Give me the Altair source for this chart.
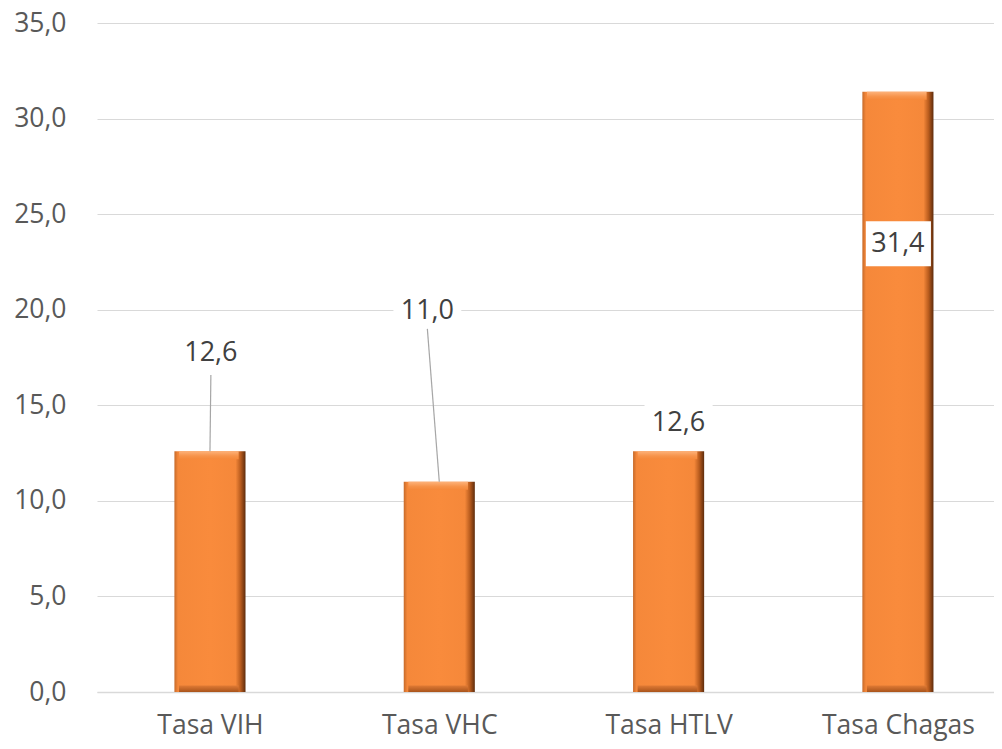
import altair as alt
import pandas as pd

# ---- data ----
categories = ["Tasa VIH", "Tasa VHC", "Tasa HTLV", "Tasa Chagas"]
values = [12.6, 11.0, 12.6, 31.4]
value_labels = ["12,6", "11,0", "12,6", "31,4"]
y_ticks = [0, 5, 10, 15, 20, 25, 30, 35]

# ---- label layout (positions, in index / data units) ----
lab_dx = [0.004, -0.052, 0.043, 0.0]
lab_y = [17.72, 19.95, 14.05, 23.45]
has_box = [False, True, True, True]
box_dx0 = [0, -0.2, -0.105, -0.14]
box_dx1 = [0, 0.096, 0.192, 0.144]
box_h = [0, 1.05, 1.18, 1.18]
lead_top_dx = [0.004, -0.052, None, None]
lead_top_y = [16.58, 19.0, None, None]

idx = list(range(len(categories)))
HALF = 0.155
BEVEL = 0.42

df = pd.DataFrame({"idx": idx, "cat": categories, "val": values, "lab": value_labels})
df["x0"] = df["idx"] - HALF
df["x1"] = df["idx"] + HALF

lab_df = pd.DataFrame({
    "idx": idx, "lab": value_labels,
    "lx": [i + d for i, d in zip(idx, lab_dx)], "ly": lab_y,
})
box_df = pd.DataFrame({
    "bx0": [i + a for i, a, b in zip(idx, box_dx0, has_box) if b],
    "bx1": [i + a for i, a, b in zip(idx, box_dx1, has_box) if b],
    "by0": [y - h for y, h, b in zip(lab_y, box_h, has_box) if b],
    "by1": [y + h for y, h, b in zip(lab_y, box_h, has_box) if b],
})
lead_rows = []
for i, v, dx, ty in zip(idx, values, lead_top_dx, lead_top_y):
    if ty is not None:
        lead_rows.append({"x": i + dx, "y": ty, "x2": i, "y2": v})
lead_df = pd.DataFrame(lead_rows)

names_js = "[" + ",".join("'" + c + "'" for c in categories) + "]"

FONT = "Open Sans"

xscale = alt.Scale(domain=[-0.4926, 3.419], nice=False, zero=False, padding=0)
yscale = alt.Scale(domain=[0, 35], nice=False, padding=0)

x_axis = alt.Axis(values=idx, labelExpr=names_js + "[datum.value]", title=None)
y_axis = alt.Axis(
    values=y_ticks,
    labelExpr="replace(format(datum.value, '.1f'), '.', ',')",
    title=None,
)

base = alt.Chart(df)

body = base.mark_bar(
    color=alt.LinearGradient(
        gradient="linear", x1=0, x2=1, y1=0, y2=0,
        stops=[
            alt.GradientStop(color="#C66A2A", offset=0),
            alt.GradientStop(color="#F5883A", offset=0.05),
            alt.GradientStop(color="#F98B3C", offset=0.5),
            alt.GradientStop(color="#F5883A", offset=0.86),
            alt.GradientStop(color="#B95C1E", offset=0.93),
            alt.GradientStop(color="#5E2C0C", offset=1),
        ],
    ),
).encode(
    x=alt.X("x0:Q", scale=xscale, axis=x_axis), x2="x1:Q",
    y=alt.Y("val:Q", scale=yscale, axis=y_axis), y2=alt.datum(0),
)

top_bevel = base.transform_calculate(
    t0="datum.val - " + str(BEVEL), tx0="datum.x0 + 0.02", tx1="datum.x1 - 0.03"
).mark_bar(
    color=alt.LinearGradient(
        gradient="linear", x1=0, x2=0, y1=0, y2=1,
        stops=[
            alt.GradientStop(color="#FDB27A", offset=0),
            alt.GradientStop(color="#F7934A", offset=0.6),
            alt.GradientStop(color="#F5883A", offset=1),
        ],
    ),
).encode(
    x=alt.X("tx0:Q", scale=xscale), x2="tx1:Q",
    y=alt.Y("val:Q", scale=yscale), y2="t0:Q",
)

bottom_bevel = base.transform_calculate(
    b1=str(BEVEL * 0.8), bx0="datum.x0 + 0.02", bx1="datum.x1 - 0.03"
).mark_bar(
    color=alt.LinearGradient(
        gradient="linear", x1=0, x2=0, y1=0, y2=1,
        stops=[
            alt.GradientStop(color="#E07A34", offset=0),
            alt.GradientStop(color="#A9541C", offset=1),
        ],
    ),
).encode(
    x=alt.X("bx0:Q", scale=xscale), x2="bx1:Q",
    y=alt.Y("b1:Q", scale=yscale), y2=alt.datum(0),
)

boxes = alt.Chart(box_df).mark_rect(color="white").encode(
    x=alt.X("bx0:Q", scale=xscale), x2="bx1:Q",
    y=alt.Y("by0:Q", scale=yscale), y2="by1:Q",
)

leaders = alt.Chart(lead_df).mark_rule(color="#A6A6A6", strokeWidth=1.2).encode(
    x=alt.X("x:Q", scale=xscale), x2="x2:Q",
    y=alt.Y("y:Q", scale=yscale), y2="y2:Q",
)

labels = alt.Chart(lab_df).mark_text(
    font=FONT, fontSize=27, color="#404040", align="center", baseline="middle"
).encode(
    x=alt.X("lx:Q", scale=xscale), y=alt.Y("ly:Q", scale=yscale), text="lab:N",
)

chart = alt.layer(
    body, top_bevel, bottom_bevel, boxes, leaders, labels
).properties(
    width=897, height=669,
    autosize=alt.AutoSizeParams(type="none"),
    padding={"left": 89, "top": 15, "right": 0, "bottom": 49},
    background="white",
).configure_view(stroke=None).configure_axisX(
    grid=False, ticks=False, domain=True, domainColor="#D9D9D9", domainWidth=1.3,
    labelFont=FONT, labelFontSize=26.5, labelColor="#595959", labelPadding=20,
    labelBaseline="top",
).configure_axisY(
    grid=True, gridColor="#D9D9D9", gridWidth=1.2, ticks=False, domain=False,
    labelFont=FONT, labelFontSize=26.5, labelColor="#595959", labelPadding=31,
)

chart.save("out.html", embed_options={"renderer": "svg", "actions": False})
